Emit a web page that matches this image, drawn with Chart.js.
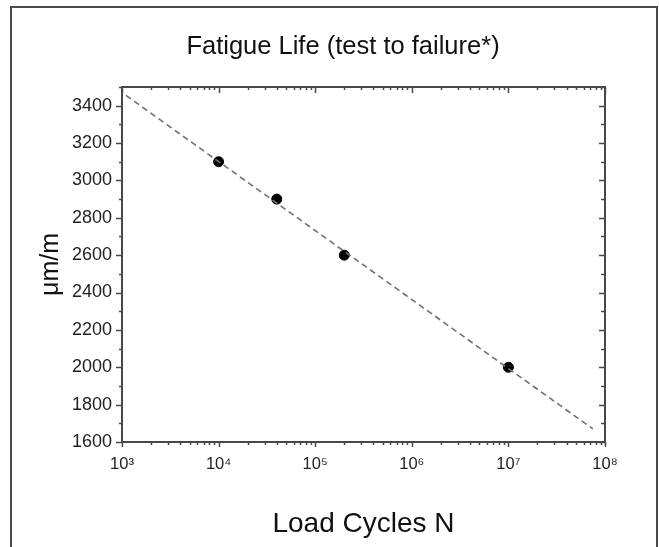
<!DOCTYPE html>
<html><head><meta charset="utf-8">
<script src="https://cdn.jsdelivr.net/npm/chart.js@4.4.1/dist/chart.umd.min.js"></script>
<style>html,body{margin:0;padding:0;background:#fff;}#wrap{width:659px;height:547px;position:relative;}canvas{display:block;}</style>
</head><body><div id="wrap"><canvas id="c" width="659" height="547" style="width:659px;height:547px"></canvas></div>
<script>
// ---- data ----
const loadCycles = [1e4, 4e4, 2e5, 1e7];
const strainValues = [3100, 2900, 2600, 2000];
const fitCycles = [1.1e3, 7.5e7];
const fitStrain = [3455, 1670];
const xDecades = [1e3, 1e4, 1e5, 1e6, 1e7, 1e8];
const xTickLabels = ['10³', '10⁴', '10⁵', '10⁶', '10⁷', '10⁸'];
const xMinorMultipliers = [2, 3, 4, 5, 6, 7, 8, 9];
const yTickValues = [1600, 1800, 2000, 2200, 2400, 2600, 2800, 3000, 3200, 3400];
const yTickLabels = ['1600', '1800', '2000', '2200', '2400', '2600', '2800', '3000', '3200', '3400'];
const yMinorValues = [1700, 1900, 2100, 2300, 2500, 2700, 2900, 3100, 3300, 3500];
const chartTitle = 'Fatigue Life (test to failure*)';
const xTitle = 'Load Cycles N';
const yTitle = 'μm/m';

const FONT = "'Liberation Sans', Arial, Helvetica, 'DejaVu Sans', sans-serif";
const AXIS = '#484848';

const framePlugin = {
  id: 'framePlugin',
  beforeDraw(chart) {
    const ctx = chart.ctx;
    ctx.save();
    ctx.strokeStyle = '#4a4a4a';
    ctx.lineWidth = 2;
    ctx.strokeRect(11, 7, 646, 600);
    ctx.restore();
  },
  afterDraw(chart) {
    const {ctx, chartArea: a, scales: {x, y}} = chart;
    ctx.save();
    ctx.strokeStyle = AXIS;
    ctx.lineWidth = 2;
    ctx.strokeRect(a.left, a.top, a.right - a.left, a.bottom - a.top);
    const tick = (x1, y1, x2, y2) => { ctx.beginPath(); ctx.moveTo(x1, y1); ctx.lineTo(x2, y2); ctx.stroke(); };
    ctx.lineWidth = 1.5;
    yTickValues.forEach(v => { const p = Math.round(y.getPixelForValue(v)) + 0.5; tick(a.left - 6, p, a.left, p); tick(a.right - 6, p, a.right, p); });
    yMinorValues.forEach(v => { const p = Math.round(y.getPixelForValue(v)) + 0.5; tick(a.left - 3, p, a.left, p); tick(a.right - 4, p, a.right, p); });
    xDecades.forEach(d => { const p = Math.round(x.getPixelForValue(d)) + 0.5; tick(p, a.bottom, p, a.bottom + 5); tick(p, a.top, p, a.top + 6); });
    xDecades.slice(0, -1).forEach(d => xMinorMultipliers.forEach(m => {
      const p = Math.round(x.getPixelForValue(d * m)) + 0.5; tick(p, a.bottom, p, a.bottom + 3); tick(p, a.top, p, a.top + 3);
    }));
    ctx.restore();
  }
};

new Chart(document.getElementById('c'), {
  type: 'scatter',
  data: {
    datasets: [
      {
        label: 'fit', type: 'line',
        data: fitCycles.map((c, i) => ({x: c, y: fitStrain[i]})),
        borderColor: '#707070', borderWidth: 1.6, borderDash: [6, 4],
        pointRadius: 0, fill: false, tension: 0
      },
      {
        label: 'test',
        data: loadCycles.map((c, i) => ({x: c, y: strainValues[i]})),
        backgroundColor: '#000', borderColor: '#000', pointRadius: 5, pointHoverRadius: 5
      }
    ]
  },
  options: {
    responsive: false, maintainAspectRatio: false, animation: false, devicePixelRatio: 1,
    layout: {padding: {left: 27, right: 0, top: 0, bottom: 0}},
    plugins: {
      legend: {display: false}, tooltip: {enabled: false},
      title: {display: true, text: chartTitle, color: '#111',
        font: {family: FONT, size: 25.5, weight: 'normal'}, padding: {top: 32, bottom: 24.4}}
    },
    scales: {
      x: {
        type: 'logarithmic', position: 'bottom', min: 1e3, max: 1e8,
        afterBuildTicks: s => { s.ticks = xDecades.map(v => ({value: v})); },
        afterFit: s => { s.height = 105; },
        grid: {display: false, drawTicks: false}, border: {display: false},
        ticks: {autoSkip: false, maxRotation: 0, padding: 13, color: '#222',
          font: {family: FONT, size: 16.5},
          callback: v => { const i = xDecades.indexOf(v); return i >= 0 ? xTickLabels[i] : null; }},
        title: {display: true, text: xTitle, color: '#111', font: {family: FONT, size: 28}, padding: {bottom: 6}}
      },
      y: {
        type: 'linear', position: 'left', min: 1600, max: 3500,
        afterBuildTicks: s => { s.ticks = yTickValues.map(v => ({value: v})); },
        afterFit: s => { s.width = 95; },
        grid: {display: false, drawTicks: false}, border: {display: false},
        ticks: {autoSkip: false, padding: 10, color: '#222', font: {family: FONT, size: 18},
          callback: v => { const i = yTickValues.indexOf(v); return i >= 0 ? yTickLabels[i] : null; }},
        title: {display: true, text: yTitle, color: '#111', font: {family: FONT, size: 25}, padding: {top: 9}}
      },
      yRight: {
        type: 'linear', position: 'right', min: 1600, max: 3500,
        afterFit: s => { s.width = 54; },
        grid: {display: false, drawTicks: false}, border: {display: false},
        ticks: {display: false}
      }
    }
  },
  plugins: [framePlugin]
});
</script></body></html>
